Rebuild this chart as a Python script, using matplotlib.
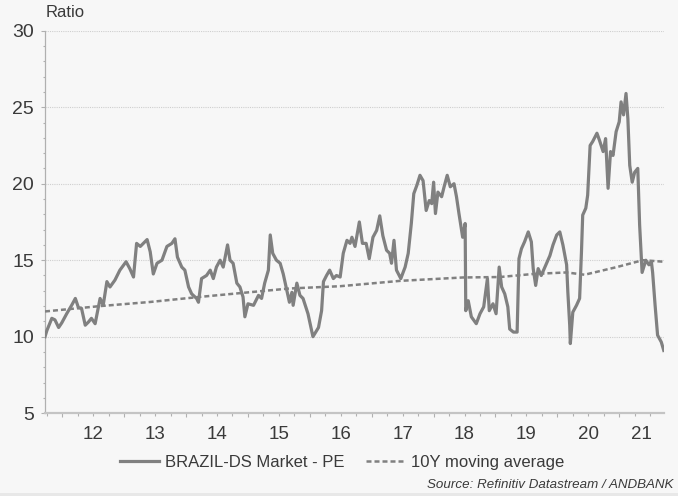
import matplotlib
matplotlib.use("Agg")
import matplotlib.pyplot as plt
from matplotlib.patches import Rectangle
import numpy as np

plt.rcParams['font.family'] = ['Liberation Sans', 'DejaVu Sans']

# PE ratio (decimal year, value)
pe_year = [2011.72, 2011.75, 2011.83, 2011.88, 2011.94, 2011.99, 2012.07, 2012.15, 2012.21, 2012.26,
           2012.31, 2012.37, 2012.42, 2012.47, 2012.53, 2012.61, 2012.66, 2012.72, 2012.77, 2012.85,
           2012.93, 2013.03, 2013.09, 2013.15, 2013.20, 2013.26, 2013.31, 2013.37, 2013.42, 2013.47,
           2013.53, 2013.61, 2013.69, 2013.77, 2013.82, 2013.86, 2013.93, 2013.98, 2014.04, 2014.09,
           2014.17, 2014.20, 2014.25, 2014.33, 2014.39, 2014.44, 2014.49, 2014.55, 2014.60, 2014.67,
           2014.71, 2014.76, 2014.82, 2014.87, 2014.92, 2014.95, 2015.00, 2015.09, 2015.17, 2015.22,
           2015.27, 2015.33, 2015.36, 2015.40, 2015.46, 2015.52, 2015.57, 2015.63, 2015.67, 2015.71,
           2015.73, 2015.79, 2015.84, 2015.89, 2015.97, 2016.05, 2016.14, 2016.19, 2016.22, 2016.27,
           2016.32, 2016.38, 2016.43, 2016.49, 2016.54, 2016.60, 2016.65, 2016.68, 2016.73, 2016.80,
           2016.85, 2016.91, 2016.96, 2017.02, 2017.08, 2017.13, 2017.18, 2017.24, 2017.29, 2017.32,
           2017.36, 2017.40, 2017.47, 2017.54, 2017.59, 2017.64, 2017.68, 2017.73, 2017.78, 2017.83,
           2017.88, 2017.93, 2017.97, 2018.00, 2018.03, 2018.07, 2018.13, 2018.17, 2018.22, 2018.27,
           2018.33, 2018.37, 2018.41, 2018.47, 2018.51, 2018.52, 2018.56, 2018.61, 2018.69, 2018.75,
           2018.81, 2018.87, 2018.90, 2018.96, 2019.01, 2019.06, 2019.10, 2019.15, 2019.20, 2019.23,
           2019.29, 2019.35, 2019.38, 2019.42, 2019.47, 2019.53, 2019.58, 2019.61, 2019.65, 2019.69,
           2019.74, 2019.80, 2019.88, 2019.93, 2019.99, 2020.04, 2020.09, 2020.15, 2020.17, 2020.20,
           2020.21, 2020.25, 2020.31, 2020.36, 2020.39, 2020.41, 2020.46, 2020.49, 2020.53, 2020.57,
           2020.64, 2020.68, 2020.74, 2020.78, 2020.82, 2020.86, 2020.90, 2020.95, 2021.00, 2021.03,
           2021.07, 2021.11, 2021.14, 2021.17, 2021.21, 2021.25, 2021.30, 2021.33, 2021.37, 2021.43,
           2021.48, 2021.52, 2021.54, 2021.58, 2021.62, 2021.68, 2021.72]
pe_value = [10.0, 10.4, 11.2, 11.1, 10.6, 10.9, 11.5, 12.05, 12.5, 11.9,
            11.85, 10.75, 10.95, 11.2, 10.85, 12.5, 12.05, 13.6, 13.25, 13.7,
            14.35, 14.9, 14.45, 13.9, 16.1, 15.9, 16.1, 16.35, 15.55, 14.1,
            14.8, 15.0, 15.9, 16.1, 16.4, 15.2, 14.55, 14.35, 13.25, 12.8,
            12.5, 12.25, 13.8, 14.0, 14.35, 13.8, 14.55, 15.0, 14.55, 16.0,
            15.0, 14.8, 13.5, 13.25, 12.6, 11.3, 12.15, 12.05, 12.7, 12.5,
            13.5, 14.35, 16.65, 15.45, 15.0, 14.8, 14.1, 13.0, 12.25, 12.9,
            12.05, 13.5, 12.7, 12.5, 11.5, 10.0, 10.6, 11.7, 13.6, 14.0,
            14.35, 13.8, 14.0, 13.9, 15.45, 16.3, 16.1, 16.5, 15.9, 17.5,
            16.1, 16.1, 15.1, 16.5, 16.95, 17.9, 16.6, 15.65, 15.45, 14.8,
            16.3, 14.35, 13.8, 14.55, 15.45, 17.4, 19.35, 19.9, 20.55, 20.2,
            18.25, 18.9, 18.7, 20.1, 18.05, 19.45, 19.15, 19.8, 20.55, 19.8,
            20.0, 19.15, 18.05, 16.5, 17.4, 11.7, 12.35, 11.3, 10.85, 11.5,
            11.95, 13.8, 11.7, 12.15, 11.5, 14.55, 13.25, 12.8, 11.95, 10.5,
            10.3, 10.3, 15.1, 15.75, 16.2, 16.85, 16.2, 14.45, 13.35, 14.45,
            14.0, 14.55, 15.3, 16.0, 16.65, 16.85, 16.0, 14.7, 12.9, 10.75,
            9.55, 11.6, 12.05, 12.5, 15.55, 17.95, 18.4, 19.25, 22.5, 22.75,
            23.3, 22.85, 22.1, 22.95, 19.7, 22.1, 21.85, 23.4, 24.05, 25.35,
            24.5, 25.9, 24.25, 21.2, 20.1, 20.75, 21.0, 17.3, 14.2, 15.0,
            14.7, 14.9, 14.2, 12.05, 10.1, 9.65, 9.1]

# 10Y moving average
ma_year = [2011.72, 2012.61, 2013.42, 2014.22, 2015.67, 2016.49, 2017.46, 2018.47,
           2019.07, 2019.61, 2020.15, 2020.44, 2020.96, 2021.38, 2021.72]
ma_value = [11.65, 12.0, 12.27, 12.6, 13.15, 13.3, 13.65, 13.87,
            13.9, 14.1, 14.2, 14.05, 14.55, 15.0, 14.9]

year_labels = ['12', '13', '14', '15', '16', '17', '18', '19', '20', '21']
label_pos = [2012.5, 2013.5, 2014.5, 2015.5, 2016.5, 2017.5, 2018.5, 2019.5, 2020.5, 2021.36]

bg = '#f7f7f7'
line_c = '#808080'
axis_c = '#b0b0b0'
text_c = '#3a3a3a'

fig = plt.figure(figsize=(6.78, 4.96), dpi=100, facecolor=bg)
ax = fig.add_axes([0.0664, 0.167, 0.9126, 0.771], facecolor=bg)

ax.plot(pe_year, pe_value, color=line_c, lw=2.3, label='BRAZIL-DS Market - PE', zorder=3)
ax.plot(ma_year, ma_value, color=line_c, lw=1.8, dashes=(2.0, 1.2),
        label='10Y moving average', zorder=3)

ax.set_xlim(2011.72, 2021.72)
ax.set_ylim(5, 30)

ax.set_yticks(np.arange(5, 31, 5))
ax.set_yticks(np.arange(5, 31, 1), minor=True)
ax.yaxis.grid(True, which='major', color='#cfcfcf', lw=0.8, ls=(0, (1, 1)))
ax.tick_params(axis='y', which='major', length=3, width=0.8, color=axis_c,
               labelsize=14, labelcolor=text_c, pad=5)
ax.tick_params(axis='y', which='minor', length=1.8, width=0.8, color=axis_c)

ax.set_xticks(np.arange(2012, 2022, 1))
ax.set_xticks(np.arange(2011.75, 2021.72, 0.25), minor=True)
ax.set_xticklabels([])
ax.tick_params(axis='x', which='major', length=3.2, width=0.8, color=axis_c)
ax.tick_params(axis='x', which='minor', length=1.8, width=0.8, color=axis_c)

sec = ax.secondary_xaxis('bottom')
sec.set_xticks(label_pos, labels=year_labels)
sec.tick_params(length=0, pad=9, labelsize=13.5, labelcolor=text_c)
sec.spines['bottom'].set_visible(False)

for s in ['top', 'right']:
    ax.spines[s].set_visible(False)
ax.spines['left'].set_color(axis_c)
ax.spines['left'].set_linewidth(0.9)
ax.spines['bottom'].set_color('#c4c4c4')
ax.spines['bottom'].set_linewidth(1.6)

fig.text(0.067, 0.974, 'Ratio', fontsize=12, color=text_c, va='center', ha='left')

fig.legend(loc='center', bbox_to_anchor=(0.505, 0.0685), ncol=2, frameon=False,
           fontsize=12, handlelength=2.3, handletextpad=0.4, columnspacing=1.3,
           borderpad=0, labelcolor=text_c)

fig.text(0.9926, 0.022, 'Source: Refinitiv Datastream / ANDBANK', fontsize=9.6,
         style='italic', color=text_c, ha='right', va='center')

fig.patches.append(Rectangle((0, 0), 1, 3 / 496, transform=fig.transFigure,
                             facecolor='#e8e8e8', edgecolor='none'))

fig.savefig('out.png', dpi=100, facecolor=bg)
